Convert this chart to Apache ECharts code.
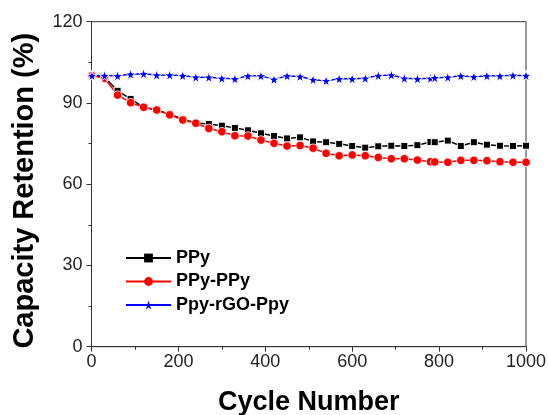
<!DOCTYPE html>
<html>
<head>
<meta charset="utf-8">
<script src="https://cdn.jsdelivr.net/npm/echarts@6/dist/echarts.min.js"></script>
<style>html,body{margin:0;padding:0;background:#fff;}#c{width:548px;height:415px;}</style>
</head>
<body>
<div id="c"></div>
<script>
var cycles = [1,30,60,90,120,150,180,210,240,270,300,330,360,390,420,450,480,510,540,570,600,630,660,690,720,750,780,790,820,850,880,910,940,970,1000];
var ppy = [100.1,99.5,94.5,91.5,88.4,87.4,85.8,84.0,82.6,82.2,81.6,80.8,79.9,78.8,77.8,76.9,77.3,75.8,75.5,74.9,74.1,73.5,74.0,74.2,74.1,74.4,75.6,75.5,76.1,74.1,75.5,74.6,74.2,74.1,74.2];
var ppyPpy = [100.1,99.1,92.9,90.1,88.4,87.4,85.6,83.7,82.5,80.6,79.4,77.9,77.8,76.3,75.1,74.1,74.3,73.3,71.4,70.5,70.8,70.5,69.9,69.4,69.4,68.9,68.3,68.2,68.1,68.8,68.8,68.7,68.3,68.1,68.1];
var ppyRgo = [100.1,100.1,100.0,100.6,100.8,100.3,100.3,100.1,99.5,99.5,99.1,98.9,100.0,100.0,98.7,100.0,99.8,98.6,98.2,98.9,98.9,99.1,100.1,100.3,99.1,98.9,99.1,99.3,99.5,100.0,99.7,100.0,100.0,100.2,100.1];
var seriesNames = ['PPy','PPy-PPy','Ppy-rGO-Ppy'];
var xTicks = [0,200,400,600,800,1000];
var yTicks = [0,30,60,90,120];

function pairs(ys){ return cycles.map(function(x,i){ return [x, ys[i]]; }); }

var font = 'Liberation Sans, Arial, sans-serif';
var star = 'path://M50,0 L61,35 L98,35 L68,57 L79,91 L50,70 L21,91 L32,57 L2,35 L39,35 Z';
var chart = echarts.init(document.getElementById('c'), null, {renderer:'canvas'});
chart.setOption({
  animation:false,
  backgroundColor:'#fff',
  grid:{left:91.5, right:22, top:21.7, bottom:68.3, show:true, borderColor:'#333', borderWidth:1, containLabel:false, outerBoundsMode:'none'},
  legend:{
    orient:'vertical', left:125, top:249, padding:0,
    itemWidth:45, itemHeight:11, itemGap:5.5,
    itemStyle:{borderWidth:0},
    data:seriesNames,
    textStyle:{fontFamily:font, fontWeight:'bold', fontSize:18, color:'#000', lineHeight:18}
  },
  xAxis:{
    type:'value', min:xTicks[0], max:xTicks[xTicks.length-1], interval:200,
    name:'Cycle Number', nameLocation:'middle', nameGap:42,
    nameTextStyle:{fontFamily:font, fontWeight:'bold', fontSize:27, color:'#000'},
    axisLine:{lineStyle:{color:'#333', width:1}},
    axisTick:{length:5, lineStyle:{color:'#333'}},
    minorTick:{show:true, splitNumber:2, length:3, lineStyle:{color:'#333'}},
    splitLine:{show:false},
    axisLabel:{fontFamily:font, fontSize:18, color:'#222', margin:6, formatter:function(v){return String(v);}}
  },
  yAxis:{
    type:'value', min:yTicks[0], max:yTicks[yTicks.length-1], interval:30,
    name:'Capacity Retention (%)', nameLocation:'middle', nameGap:52,
    nameTextStyle:{fontFamily:font, fontWeight:'bold', fontSize:29, color:'#000', padding:[0,13,0,0]},
    axisLine:{lineStyle:{color:'#333', width:1}},
    axisTick:{length:5, lineStyle:{color:'#333'}},
    minorTick:{show:true, splitNumber:2, length:3, lineStyle:{color:'#333'}},
    splitLine:{show:false},
    axisLabel:{fontFamily:font, fontSize:18, color:'#222', margin:9}
  },
  series:[
    {name:seriesNames[0], type:'line', data:pairs(ppy), symbol:'rect', symbolSize:7,
     lineStyle:{color:'#000', width:1.5}, itemStyle:{color:'#000', borderColor:'#fff', borderWidth:1}},
    {name:seriesNames[1], type:'line', data:pairs(ppyPpy), symbol:'circle', symbolSize:8.5,
     lineStyle:{color:'#ff0000', width:1.5}, itemStyle:{color:'#ff0000', borderColor:'#fff', borderWidth:0.8}},
    {name:seriesNames[2], type:'line', data:pairs(ppyRgo), symbol:star, symbolSize:11,
     lineStyle:{color:'#0000ff', width:1.5}, itemStyle:{color:'#0000ff', borderColor:'#fff', borderWidth:1}}
  ]
});
</script>
</body>
</html>
